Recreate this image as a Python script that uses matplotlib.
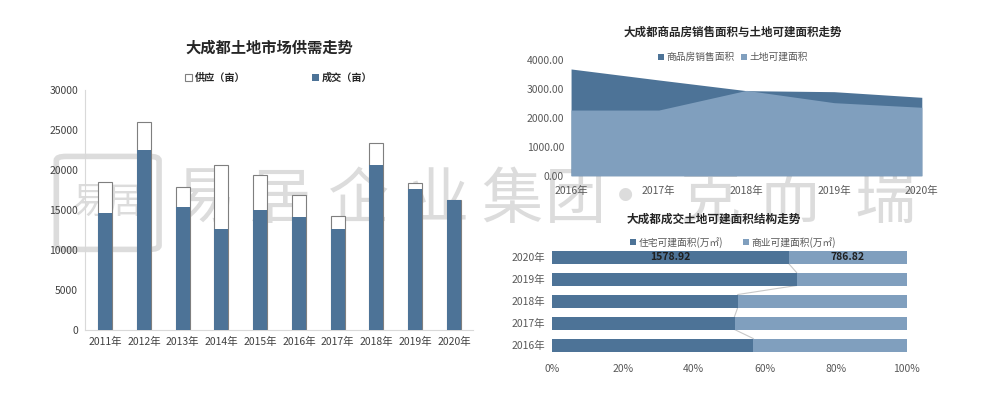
import matplotlib
matplotlib.use("Agg")
import matplotlib.pyplot as plt
from matplotlib.patches import Patch, FancyBboxPatch

plt.rcParams['font.family'] = ['Noto Sans CJK SC', 'DejaVu Sans']

# ---- left chart: land supply / deal ----
years_a = ['2011年', '2012年', '2013年', '2014年', '2015年',
           '2016年', '2017年', '2018年', '2019年', '2020年']
supply = [18460, 25960, 17830, 20620, 19380, 16880, 14250, 23330, 18420, 16300]
deal = [14590, 22500, 15420, 12580, 15000, 14080, 12670, 20670, 17580, 16250]

# ---- top right: sales area vs buildable land area ----
years_b = ['2016年', '2017年', '2018年', '2019年', '2020年']
sales_area = [3690, 3310, 2940, 2905, 2710]
land_area = [2270, 2270, 2950, 2525, 2365.74]

# ---- bottom right: structure of buildable area ----
years_c = ['2016年', '2017年', '2018年', '2019年', '2020年']
residential = [1289, 1169, 1546, 1742, 1578.92]
commercial = [981, 1101, 1404, 783, 786.82]

dark = '#4d7397'
light = '#809fbe'
txt = '#404040'
gray_txt = '#595959'

fig = plt.figure(figsize=(9.88, 3.94), dpi=100)

# watermark (behind everything)
wm = '#dcdcdc'
fig.patches.append(FancyBboxPatch((0.060, 0.37), 0.098, 0.23,
                                  boxstyle='round,pad=0.003,rounding_size=0.01',
                                  transform=fig.transFigure, fill=False,
                                  edgecolor=wm, lw=4, zorder=-2))
fig.text(0.109, 0.485, '易居', fontsize=26, color=wm, ha='center', va='center',
         zorder=-1)
wm_chars = ['易', '居', '企', '业', '集', '团', '·', '克', '而', '瑞']
wm_x = [205, 280, 358, 438, 512, 575, 625, 710, 790, 885]
for ch, px in zip(wm_chars, wm_x):
    fig.text(px / 988, 0.49, ch, fontsize=44, color=wm, ha='center', va='center',
             zorder=-1)

# ---------------- left chart ----------------
ax1 = fig.add_axes([0.086, 0.1624, 0.393, 0.6092])
ax1.patch.set_alpha(0)
x = list(range(len(years_a)))
ax1.bar(x, supply, width=0.36, color='white', edgecolor='#7f7f7f', linewidth=0.8, zorder=2)
ax1.bar(x, deal, width=0.36, color=dark, zorder=3)
ax1.set_xlim(-0.52, 9.5)
ax1.set_ylim(0, 30000)
ax1.set_yticks(range(0, 30001, 5000))
ax1.set_xticks(x)
ax1.set_xticklabels(years_a)
ax1.tick_params(length=0, labelsize=7.5, colors=txt)
ax1.tick_params(axis='y', pad=5)
ax1.tick_params(axis='x', pad=5)
for s in ['top', 'right']:
    ax1.spines[s].set_visible(False)
for s in ['left', 'bottom']:
    ax1.spines[s].set_color('#d9d9d9')
    ax1.spines[s].set_linewidth(0.8)
fig.text(0.273, 0.878, '大成都土地市场供需走势', fontsize=11, fontweight='bold',
         ha='center', va='center', color='#262626')
h1 = [Patch(facecolor='white', edgecolor='#7f7f7f', linewidth=0.8, label='供应（亩）'),
      Patch(facecolor=dark, label='成交（亩）')]
ax1.legend(handles=h1, ncol=2, loc='center', bbox_to_anchor=(0.282, 0.802),
           bbox_transform=fig.transFigure, frameon=False, handlelength=0.7,
           handleheight=0.7, handletextpad=0.3, columnspacing=6.5,
           prop={'size': 7.3, 'weight': 'bold'}, labelcolor='#262626')

# ---------------- top right chart ----------------
ax2 = fig.add_axes([0.578, 0.554, 0.355, 0.2937])
ax2.patch.set_alpha(0)
xb = list(range(len(years_b)))
ax2.fill_between(xb, sales_area, color=dark, linewidth=0, zorder=2)
ax2.fill_between(xb, land_area, color=light, linewidth=0, zorder=3)
ax2.set_xlim(0, 4)
ax2.set_ylim(0, 4000)
ax2.set_yticks(range(0, 4001, 1000))
ax2.set_yticklabels(['%.2f' % v for v in range(0, 4001, 1000)])
ax2.set_xticks(xb)
ax2.set_xticklabels(years_b)
ax2.tick_params(length=0, labelsize=7.5, colors=gray_txt)
ax2.tick_params(axis='y', pad=5)
ax2.tick_params(axis='x', pad=7)
for s in ax2.spines.values():
    s.set_visible(False)
fig.text(0.742, 0.918, '大成都商品房销售面积与土地可建面积走势', fontsize=8.3,
         fontweight='bold', ha='center', va='center', color='#262626')
h2 = [Patch(facecolor=dark, label='商品房销售面积'),
      Patch(facecolor=light, label='土地可建面积')]
ax2.legend(handles=h2, ncol=2, loc='center', bbox_to_anchor=(0.742, 0.855),
           bbox_transform=fig.transFigure, frameon=False, handlelength=0.6,
           handleheight=0.6, handletextpad=0.3, columnspacing=0.6,
           prop={'size': 7}, labelcolor=gray_txt)

# ---------------- bottom right chart ----------------
ax3 = fig.add_axes([0.5584, 0.0964, 0.3593, 0.2792])
ax3.patch.set_alpha(0)
tot = [r + c for r, c in zip(residential, commercial)]
res_p = [r / t for r, t in zip(residential, tot)]
com_p = [c / t for c, t in zip(commercial, tot)]
yc = list(range(len(years_c)))
bh = 0.59
ax3.barh(yc, res_p, height=bh, color=dark, zorder=3)
ax3.barh(yc, com_p, left=res_p, height=bh, color=light, zorder=3)
# series lines between bars
for i in range(len(yc) - 1):
    ax3.plot([res_p[i], res_p[i + 1]], [yc[i] + bh / 2, yc[i + 1] - bh / 2],
             color='#c8c8c8', lw=0.8, zorder=2)
i = len(yc) - 1
ax3.text(res_p[i] / 2, yc[i], '%.2f' % residential[i], ha='center', va='center',
         fontsize=7.5, fontweight='bold', color='#1f1f1f', zorder=4)
ax3.text(res_p[i] + com_p[i] / 2, yc[i], '%.2f' % commercial[i], ha='center',
         va='center', fontsize=7.5, fontweight='bold', color='#1f1f1f', zorder=4)
ax3.set_xlim(0, 1)
ax3.set_ylim(-0.5, 4.5)
ax3.set_yticks(yc)
ax3.set_yticklabels(years_c)
ax3.set_xticks([0, 0.2, 0.4, 0.6, 0.8, 1.0])
ax3.set_xticklabels(['0%', '20%', '40%', '60%', '80%', '100%'])
ax3.tick_params(length=0, labelsize=7.5, colors=gray_txt)
ax3.tick_params(axis='y', pad=5)
ax3.tick_params(axis='x', pad=6)
for s in ax3.spines.values():
    s.set_visible(False)
fig.text(0.722, 0.443, '大成都成交土地可建面积结构走势', fontsize=8.4,
         fontweight='bold', ha='center', va='center', color='#262626')
h3 = [Patch(facecolor=dark, label='住宅可建面积(万㎡)'),
      Patch(facecolor=light, label='商业可建面积(万㎡)')]
ax3.legend(handles=h3, ncol=2, loc='center', bbox_to_anchor=(0.742, 0.385),
           bbox_transform=fig.transFigure, frameon=False, handlelength=0.6,
           handleheight=0.6, handletextpad=0.3, columnspacing=2.0,
           prop={'size': 7}, labelcolor=gray_txt)

fig.savefig('out.png', dpi=100, facecolor='white')
